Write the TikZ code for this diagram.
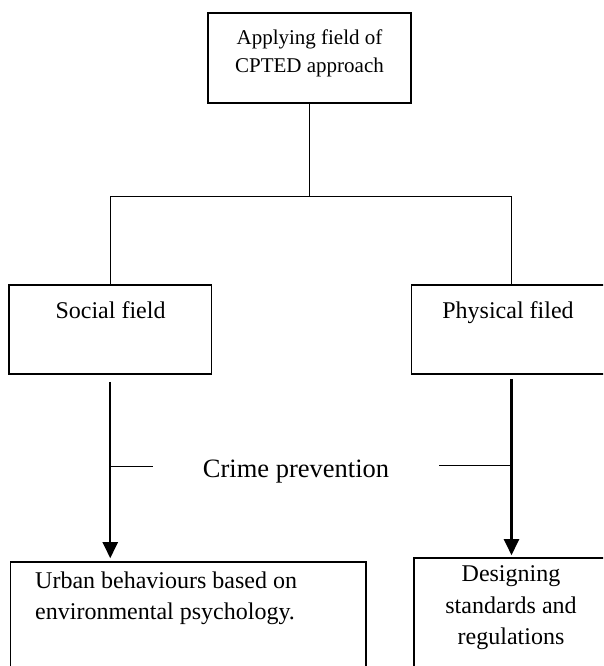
\documentclass[tikz,border=0pt]{standalone}
\usepackage{fontspec}
\setmainfont{Liberation Serif}
\usetikzlibrary{arrows.meta}

\begin{document}
\begin{tikzpicture}[x=1pt,y=-1pt,
  box/.style={draw, line width=1.6pt, inner sep=0pt},
  link/.style={line width=0.9pt},
  flow/.style={line width=2.2pt, -{Triangle[width=15pt,length=16pt]}},
  txt/.style={inner sep=0pt, font=\fontsize{24}{31.5}\selectfont}]
\useasboundingbox (0,0) rectangle (603,666);
\clip (0,0) rectangle (603,666);
% boxes
\node [box, minimum width=203, minimum height=90] (apply) at (309.5,58) {};
\node [box, minimum width=202.5, minimum height=89] (social) at (110.25,329.5) {};
\node [box, minimum width=200, minimum height=89] (physical) at (511.5,329.5) {};
\node [box, minimum width=355.6, minimum height=118] (urban) at (188.2,621) {};
\node [box, minimum width=196, minimum height=122] (design) at (512,619) {};
% texts
\node [txt, font=\fontsize{21}{28}\selectfont, align=center, anchor=north] (applytxt) at (309.5,29.7) {Applying field of\\CPTED approach};
\node [txt, anchor=base] (socialtxt) at (110.5,318) {Social field};
\node [txt, anchor=base] (physicaltxt) at (508,318) {Physical filed};
\node [txt, align=left, anchor=north west] (urbantxt) at (35,571.6) {Urban behaviours based on\\environmental psychology.};
\node [txt, align=center, anchor=north] (designtxt) at (511,565.6) {Designing\\standards and\\regulations};
\node [txt, font=\fontsize{26.5}{30}\selectfont, anchor=base] (crime) at (296,477) {Crime prevention};
% tree
\coordinate (split) at (309.5,196);
\draw [link] (apply.south) -- (split);
\draw [link] (social.north) -- (social.north |- split) -- (physical.north |- split) -- (physical.north);
% arrows
\draw [flow] (social.south) ++(0,7) -- ([yshift=3pt]urban.north -| social.south);
\draw [flow] (physical.south) ++(0,4) -- ([yshift=2pt]design.north -| physical.south);
% crime prevention ticks
\coordinate (lt) at ([xshift=-50pt,yshift=5pt]crime.west);
\coordinate (rt) at ([xshift=50pt,yshift=6pt]crime.east);
\draw [link] (lt) -- (lt -| social.south);
\draw [link] (rt) -- (rt -| physical.south);
\end{tikzpicture}
\end{document}
